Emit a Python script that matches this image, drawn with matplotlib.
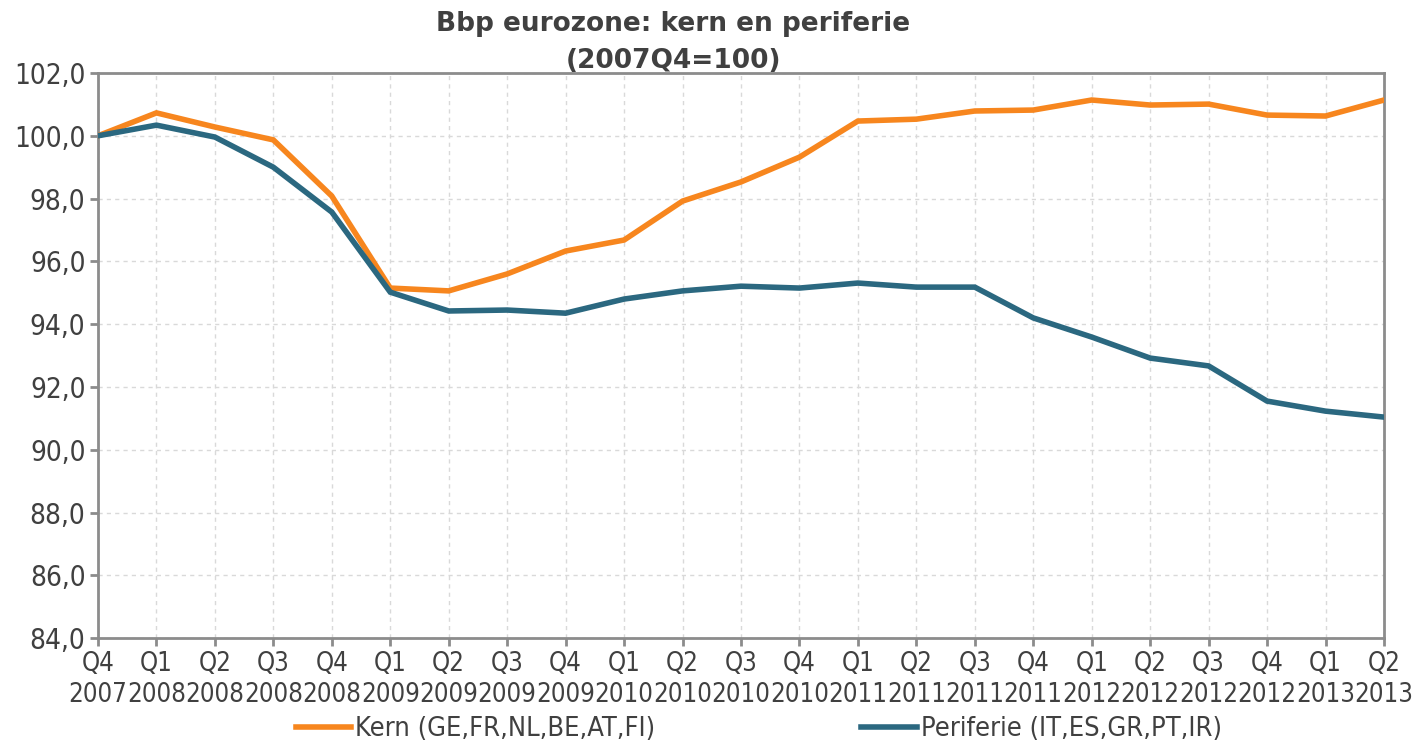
import numpy as np
import matplotlib.pyplot as plt
from matplotlib.lines import Line2D
from matplotlib import font_manager

# kwartalen en reeksen (2007Q4=100)
kwartalen = ['Q4\n2007', 'Q1\n2008', 'Q2\n2008', 'Q3\n2008', 'Q4\n2008',
             'Q1\n2009', 'Q2\n2009', 'Q3\n2009', 'Q4\n2009',
             'Q1\n2010', 'Q2\n2010', 'Q3\n2010', 'Q4\n2010',
             'Q1\n2011', 'Q2\n2011', 'Q3\n2011', 'Q4\n2011',
             'Q1\n2012', 'Q2\n2012', 'Q3\n2012', 'Q4\n2012',
             'Q1\n2013', 'Q2\n2013']
kern = [100.0, 100.73, 100.28, 99.87, 98.08, 95.15, 95.06, 95.6, 96.33,
        96.68, 97.92, 98.53, 99.32, 100.47, 100.53, 100.79, 100.82,
        101.14, 100.98, 101.01, 100.66, 100.63, 101.14]
periferie = [100.0, 100.34, 99.96, 99.0, 97.57, 95.02, 94.42, 94.45, 94.35,
             94.8, 95.06, 95.21, 95.15, 95.31, 95.18, 95.18, 94.2,
             93.59, 92.92, 92.67, 91.55, 91.23, 91.04]

oranje = '#F7861E'
blauw = '#2B6880'
tekst = '#404040'
as_kleur = '#8C8C8C'


def smal(size):
    # smalle letter zoals in het origineel
    return font_manager.FontProperties(family='DejaVu Sans', stretch='condensed', size=size)


fig = plt.figure(figsize=(14.18, 7.42), dpi=100)
ax = fig.add_axes([0.0691, 0.14, 0.9069, 0.7616])

x = np.arange(len(kwartalen))
ax.plot(x, kern, color=oranje, lw=4, solid_joinstyle='miter', zorder=3)
ax.plot(x, periferie, color=blauw, lw=4, solid_joinstyle='miter', zorder=3)

ax.set_xlim(0, len(kwartalen) - 1)
ax.set_ylim(84, 102)
ax.set_xticks(x)
ax.set_xticklabels(kwartalen, color=tekst, fontproperties=smal(18.5), linespacing=1.28)
yt = np.arange(84, 103, 2)
ax.set_yticks(yt)
ax.set_yticklabels([f'{v:.1f}'.replace('.', ',') for v in yt],
                   color=tekst, fontproperties=smal(20))

ax.grid(True, color='#D9D9D9', ls=(0, (3, 3)), lw=1)
for s in ax.spines.values():
    s.set_color(as_kleur)
    s.set_linewidth(2)
ax.tick_params(axis='both', color=as_kleur, width=2, length=6, direction='out', pad=3)

fig.text(0.475, 0.985, 'Bbp eurozone: kern en periferie\n(2007Q4=100)',
         ha='center', va='top', fontsize=19, fontweight='bold', color=tekst,
         family='DejaVu Sans', linespacing=1.55)

handles = [Line2D([], [], color=oranje, lw=4), Line2D([], [], color=blauw, lw=4)]
fig.legend(handles, ['Kern (GE,FR,NL,BE,AT,FI)', 'Periferie (IT,ES,GR,PT,IR)'],
           loc='lower center', bbox_to_anchor=(0.535, -0.033), ncol=2, frameon=False,
           prop=smal(19.5), labelcolor=tekst,
           handlelength=2.05, handletextpad=0.15, columnspacing=7.6)

fig.savefig('out.png', dpi=100)
